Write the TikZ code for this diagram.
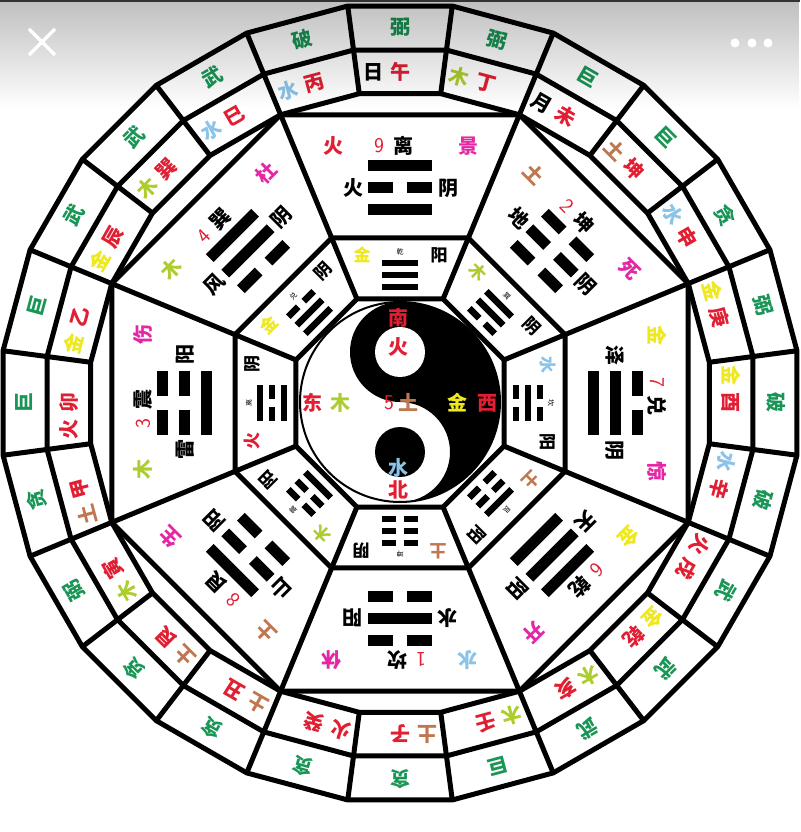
\documentclass[tikz,border=0pt]{standalone}
\usepackage{fontspec}
\newfontfamily\cjk{Noto Sans CJK SC}
\usetikzlibrary{fadings}

\definecolor{xing}{RGB}{25,150,85}
\definecolor{zhi}{RGB}{225,30,50}
\definecolor{men}{RGB}{228,40,165}
\definecolor{jin}{RGB}{238,232,30}
\definecolor{mu}{RGB}{172,205,45}
\definecolor{shui}{RGB}{140,195,232}
\definecolor{tu}{RGB}{192,118,78}

\tikzset{
  han/.style={font=\cjk\bfseries\fontsize{20}{20}\selectfont, inner sep=0pt},
  xiao/.style={font=\cjk\bfseries\fontsize{17}{17}\selectfont, inner sep=0pt},
  tinyname/.style={font=\cjk\fontsize{7}{7}\selectfont, inner sep=0pt},
  shu/.style={font=\sffamily\fontsize{21}{21}\selectfont, text=zhi, inner sep=0pt},
  frame/.style={line width=5pt},
}

\newcommand\bigyao[2]{\ifnum#2=1 \fill (-32,#1-5.5) rectangle (32,#1+5.5);
  \else \fill (-32,#1-5.5) rectangle (-7,#1+5.5); \fill (7,#1-5.5) rectangle (32,#1+5.5); \fi}
\newcommand\smallyao[2]{\ifnum#2=1 \fill (-18,#1-3.3) rectangle (18,#1+3.3);
  \else \fill (-18,#1-3.3) rectangle (-4,#1+3.3); \fill (4,#1-3.3) rectangle (18,#1+3.3); \fi}

\begin{document}
\begin{tikzpicture}[x=1pt,y=1pt]
\useasboundingbox (-400,-429) rectangle (400,403);
\fill[white] (-400,-429) rectangle (400,403);

\begin{scope}[shift={(0,1)}]
\fill[black] (0,100) arc[start angle=90,end angle=-90,radius=100]
  arc[start angle=-90,end angle=90,radius=50]
  arc[start angle=-90,end angle=-270,radius=50] -- cycle;
\draw[line width=2pt] (0,0) circle[radius=100];
\fill[white] (0,50) circle[radius=25];
\fill[black] (0,-50) circle[radius=25];
\end{scope}
\node[han, text=zhi] (nan) at (-2,85) {南};
\node[han, text=zhi] (huo) at (-2,56) {火};
\node[han, text=zhi] (dong) at (-87,0) {东};
\node[han, text=mu] (mu) at (-60,0) {木};
\node[shu] (wu) at (-11,0) {5};
\node[han, text=tu] (tu) at (8,0) {土};
\node[han, text=jin] (jin) at (57,0) {金};
\node[han, text=zhi] (xi) at (87,0) {西};
\node[han, text=shui] (shui) at (-2,-65) {水};
\node[han, text=zhi] (bei) at (-2,-87) {北};

\begin{scope}[frame]
\draw (7.5:400.4) \foreach \i in {1,...,23} { -- (7.5+15*\i:400.4) } -- cycle;
\draw (7.5:356) \foreach \i in {1,...,23} { -- (7.5+15*\i:356) } -- cycle;
\draw (7.5:312) \foreach \i in {1,...,23} { -- (7.5+15*\i:312) } -- cycle;
\draw (22.5:312) \foreach \i in {1,...,7} { -- (22.5+45*\i:312) } -- cycle;
\draw (22.5:178.6) \foreach \i in {1,...,7} { -- (22.5+45*\i:178.6) } -- cycle;
\draw (22.5:112.6) \foreach \i in {1,...,7} { -- (22.5+45*\i:112.6) } -- cycle;
\foreach \i in {0,...,7} \draw (22.5+45*\i:112.6) -- (22.5+45*\i:312);
\foreach \i in {0,...,23} \draw (7.5+15*\i:312) -- (7.5+15*\i:400.4);
\end{scope}

\foreach \t/\st/\cc/\ca/\cb [count=\k] in {90/弼/black/日/午, 75/弼/mu/木/丁,
  60/巨/black/月/未, 45/巨/tu/土/坤, 30/贪/shui/水/申, 15/弼/jin/金/庚,
  0/破/jin/金/酉, -15/破/shui/水/辛, -30/武/zhi/火/戌, -45/武/jin/金/乾,
  -60/武/mu/木/亥, -75/巨/mu/木/壬, -90/贪/tu/土/子, -105/贪/zhi/火/癸,
  -120/贪/tu/土/丑, -135/贪/tu/土/艮, -150/弼/mu/木/寅, -165/贪/tu/土/甲,
  180/巨/zhi/火/卯, 165/巨/jin/金/乙, 150/武/jin/金/辰, 135/武/mu/木/巽,
  120/武/shui/水/巳, 105/破/shui/水/丙}
{
  \begin{scope}[rotate=\t-90, transform shape]
    \node[han, text=xing] (xing\k) at (0,376) {\st};
    \node[han, text=\cc] (gan\k) at (-27,331) {\ca};
    \node[han, text=zhi] (zhi\k) at (0,331) {\cb};
  \end{scope}
}

\foreach \t/\nm/\no/\ec/\el/\gt/\im/\yy/\la/\lb/\lc in {90/离/9/zhi/火/景/火/阴/1/0/1,
  45/坤/2/tu/土/死/地/阴/0/0/0, 0/兑/7/jin/金/惊/泽/阴/1/1/0,
  -45/乾/6/jin/金/开/天/阳/1/1/1, -90/坎/1/shui/水/休/水/阳/0/1/0,
  -135/艮/8/tu/土/生/山/阳/0/0/1, 180/震/3/mu/木/伤/雷/阳/1/0/0,
  135/巽/4/mu/木/杜/风/阴/0/1/1}
{
  \begin{scope}[rotate=\t-90, transform shape]
    \node[han, text=\ec] (el\no) at (-67,257) {\el};
    \node[shu] (no\no) at (-21,257) {\no};
    \node[han] (gua\no) at (3,257) {\nm};
    \node[han, text=men] (men\no) at (68,257) {\gt};
    \node[han] (xiang\no) at (-47,215) {\im};
    \node[han] (yy\no) at (48,215) {\yy};
    \bigyao{193}{\la} \bigyao{215}{\lb} \bigyao{237}{\lc}
  \end{scope}
}

\foreach \t/\nm/\ec/\el/\yy/\la/\lb/\lc [count=\j] in {90/乾/jin/金/阳/1/1/1,
  45/巽/mu/木/阴/0/1/1, 0/坎/shui/水/阳/0/1/0, -45/艮/tu/土/阳/0/0/1,
  -90/坤/tu/土/阴/0/0/0, -135/震/mu/木/阳/1/0/0, 180/离/zhi/火/阴/1/0/1,
  135/兑/jin/金/阴/1/1/0}
{
  \begin{scope}[rotate=\t-90, transform shape]
    \node[xiao, text=\ec] (xel\j) at (-38,148) {\el};
    \node[tinyname] (xgua\j) at (0,151) {\nm};
    \node[xiao] (xyy\j) at (39,148) {\yy};
    \smallyao{116}{\la} \smallyao{128}{\lb} \smallyao{140}{\lc}
  \end{scope}
}

\fill[black, opacity=0.25, path fading=south] (-400,403) rectangle (400,295);
\fill[black!80] (-400,403) rectangle (400,401);
\draw[white, line width=3.5pt] (-371,374) -- (-345,348) (-371,348) -- (-345,374);
\foreach \x in {335,352,368} \fill[white] (\x,360) circle[radius=4.5];
\end{tikzpicture}
\end{document}
